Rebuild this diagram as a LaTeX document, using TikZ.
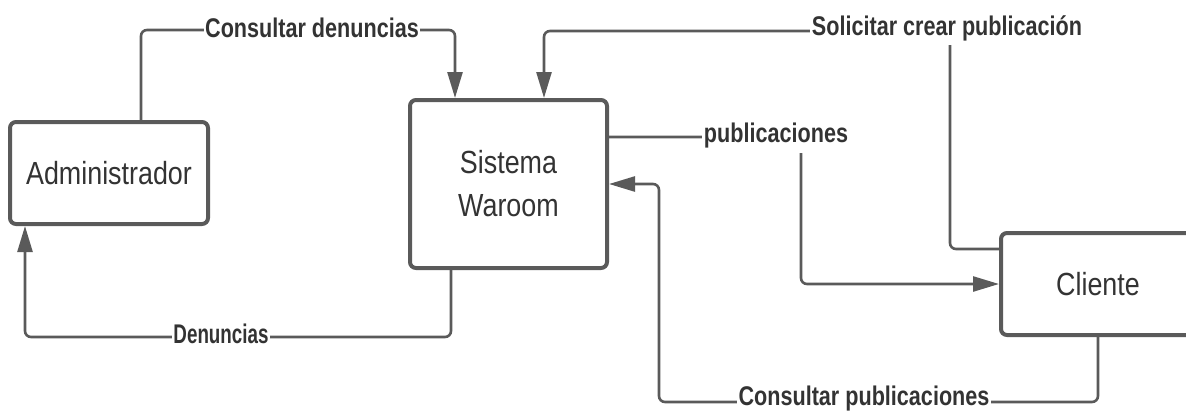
\documentclass[tikz,border=0pt]{standalone}
\usepackage{fontspec}
\newfontfamily\boxfont{Liberation Sans}[FakeStretch=0.84]
\newfontfamily\lblfont{Liberation Sans}[FakeStretch=0.8]
\usetikzlibrary{arrows.meta,calc}
\definecolor{edge}{HTML}{5A5A5A}
\definecolor{txt}{HTML}{333333}
\begin{document}
\begin{tikzpicture}[x=1pt,y=-1pt,
  entity/.style={draw=edge, line width=4pt, rounded corners=6pt, inner sep=0pt, fill=white,
    text=txt, font=\boxfont\fontsize{32}{43}\selectfont, align=center},
  conn/.style={draw=edge, line width=2.6pt, rounded corners=6pt},
  tip/.style={-{Triangle[length=26pt,width=15pt]}},
  lbl/.style={fill=white, inner xsep=1.5pt, inner ysep=4pt, text=txt, font=\lblfont\bfseries\fontsize{27}{30}\selectfont}]
\useasboundingbox (0,0) rectangle (1186,413);
% nodes
\node[entity, minimum width=198pt, minimum height=102pt] (adm) at (109,173) {Administrador};
\node[entity, minimum width=197pt, minimum height=168pt] (sys) at (508.5,184) {Sistema\\Waroom};
\node[entity, minimum width=194pt, minimum height=102pt] (cli) at (1098,284) {Cliente};
% connectors
\draw[conn, tip] ([xshift=32pt]adm.north) |- ([xshift=-53.5pt]sys.north |- 0,30) -- ([xshift=-53.5pt]sys.north);
\draw[conn, tip] ([yshift=35pt]cli.west) -| (950,31) -| ([xshift=35.5pt]sys.north);
\draw[conn, tip] ([yshift=47pt]sys.east) -| ($(cli.west)+(-198,0)$) -- (cli.west);
\draw[conn, tip] (cli.south) |- (659,402) |- (sys.east);
\draw[conn, tip] ([xshift=-57.5pt]sys.south) |- (25,337) -- ([xshift=-84pt]adm.south);
% labels
\node[lbl] (l1) at (312,28) {Consultar denuncias};
\node[lbl] (l2) at (947,28) {Solicitar crear publicación};
\node[lbl] (l3) at (776,136) {publicaciones};
\node[lbl] (l4) at (864,399) {Consultar publicaciones};
\node[lbl] (l5) at (221,334) {\scalebox{0.87}[1]{Denuncias}};
\end{tikzpicture}
\end{document}
